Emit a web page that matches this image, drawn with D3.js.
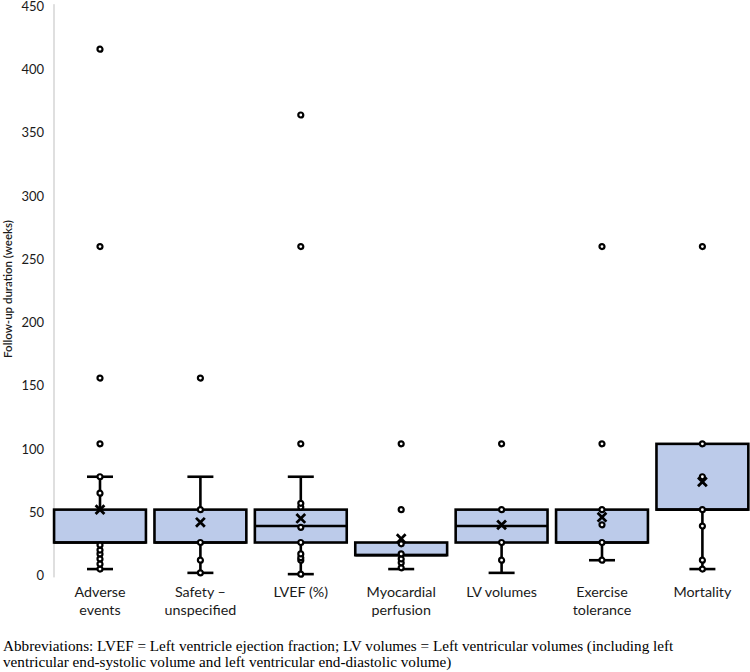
<!DOCTYPE html>
<html>
<head>
<meta charset="utf-8">
<script src="https://cdn.jsdelivr.net/npm/d3@7"></script>
<style>
  body { margin: 0; background: #fff; }
  svg { display: block; }
</style>
</head>
<body>
<svg width="750" height="672"></svg>
<script>
// box stats (weeks)
var categories = ['Adverse\nevents', 'Safety \u2013\nunspecified', 'LVEF (%)', 'Myocardial\nperfusion', 'LV volumes', 'Exercise\ntolerance', 'Mortality'];
var q1 = [26, 26, 26, 16, 26, 26, 52];
var median = [26, 26, 39, 16, 39, 26, 52];
var q3 = [52, 52, 52, 26, 52, 52, 104];
var whiskerLow = [5, 2, 1, 5, 2, 12, 5];
var whiskerHigh = [78, 78, 78, 26, 52, 52, 104];
var mean = [52, 42, 45, 29, 40, 46, 74];
var points = [
    [5, 9, 13, 17, 20, 24, 65, 78, 104, 156, 260, 416],
    [2, 12, 26, 52, 156],
    [1, 12, 14, 17, 26, 38, 54, 57, 104, 260, 364],
    [6, 10, 13, 17, 25, 52, 104],
    [12, 26, 52, 104],
    [12, 26, 40, 52, 104, 260],
    [5, 12, 39, 52, 78, 104, 260]
];
var yTicks = [0, 50, 100, 150, 200, 250, 300, 350, 400, 450];
var yLabel = 'Follow-up duration (weeks)';
var caption = ['Abbreviations: LVEF = Left ventricle ejection fraction; LV volumes = Left ventricular volumes (including left',
    'ventricular end-systolic volume and left ventricular end-diastolic volume)'];

var svg = d3.select('svg');
var axisX = 54;

var x = d3.scaleBand()
    .domain(categories)
    .range([49.8, 752.6])
    .padding(0);

var y = d3.scaleLinear()
    .domain([0, 450])
    .range([575.4, 6.2]);

var boxW = x.bandwidth() * 0.915;
var capW = 26;

// y axis
var yAxis = d3.axisLeft(y).tickValues(yTicks).tickSize(0).tickPadding(10);
var gy = svg.append('g')
    .attr('transform', 'translate(' + axisX + ',0)')
    .call(yAxis);
gy.select('.domain').remove();
gy.selectAll('text')
    .style('font-family', 'Lato, sans-serif')
    .style('font-size', '13px')
    .attr('fill', '#1a1a1a');

svg.append('line')
    .attr('x1', axisX).attr('x2', axisX)
    .attr('y1', y(450) - 2).attr('y2', y(0) + 2)
    .attr('stroke', '#bfbfbf')
    .attr('stroke-width', 1);

svg.append('text')
    .attr('transform', 'translate(12,' + 289 + ') rotate(-90)')
    .attr('text-anchor', 'middle')
    .style('font-family', 'Lato, sans-serif')
    .style('font-size', '11.5px')
    .style('font-weight', '600')
    .attr('fill', '#1a1a1a')
    .text(yLabel);

// boxes
var groups = svg.selectAll('.box')
    .data(categories)
    .enter()
    .append('g')
    .attr('class', 'box')
    .attr('transform', function(d) { return 'translate(' + (x(d) + x.bandwidth() / 2) + ',0)'; });

groups.each(function(d, i) {
    var g = d3.select(this);
    // whiskers
    var segs = [[whiskerLow[i], q1[i]], [q3[i], whiskerHigh[i]]];
    segs.forEach(function(s) {
        if (s[1] - s[0] <= 0) return;
        g.append('line')
            .attr('x1', 0).attr('x2', 0)
            .attr('y1', y(s[0])).attr('y2', y(s[1]))
            .attr('stroke', '#000').attr('stroke-width', 2.6);
    });
    [whiskerLow[i], whiskerHigh[i]].forEach(function(v, k) {
        if ((k === 0 && v >= q1[i]) || (k === 1 && v <= q3[i])) return;
        g.append('line')
            .attr('x1', -capW / 2).attr('x2', capW / 2)
            .attr('y1', y(v)).attr('y2', y(v))
            .attr('stroke', '#000').attr('stroke-width', 2.6);
    });

    g.append('rect')
        .attr('x', -boxW / 2)
        .attr('y', y(q3[i]))
        .attr('width', boxW)
        .attr('height', y(q1[i]) - y(q3[i]))
        .attr('fill', '#bccbea')
        .attr('stroke', '#000')
        .attr('stroke-width', 2.6);

    g.append('line')
        .attr('x1', -boxW / 2).attr('x2', boxW / 2)
        .attr('y1', y(median[i])).attr('y2', y(median[i]))
        .attr('stroke', '#000').attr('stroke-width', 2.6);

    // mean marker
    var m = y(mean[i]), s = 4.4;
    g.append('path')
        .attr('d', 'M' + (-s) + ',' + (m - s) + 'L' + s + ',' + (m + s) + 'M' + s + ',' + (m - s) + 'L' + (-s) + ',' + (m + s))
        .attr('stroke', '#000').attr('stroke-width', 2.8).attr('fill', 'none');

    g.selectAll('circle')
        .data(points[i])
        .enter()
        .append('circle')
        .attr('cx', 0)
        .attr('cy', function(v) { return y(v); })
        .attr('r', 2.5)
        .attr('fill', '#fff')
        .attr('stroke', '#000')
        .attr('stroke-width', 2.2);
});

// category labels
groups.append('text')
    .attr('text-anchor', 'middle')
    .style('font-family', 'Lato, sans-serif')
    .style('font-size', '14.3px')
    .attr('fill', '#1a1a1a')
    .selectAll('tspan')
    .data(function(d) { return d.split('\n'); })
    .enter()
    .append('tspan')
    .attr('x', 0)
    .attr('y', function(d, k) { return 597 + k * 17.5; })
    .text(function(d) { return d; });

// caption
svg.append('text')
    .style('font-family', '"Liberation Serif", "Times New Roman", serif')
    .style('font-size', '15.2px')
    .attr('fill', '#000')
    .selectAll('tspan')
    .data(caption)
    .enter()
    .append('tspan')
    .attr('x', 3)
    .attr('y', function(d, k) { return 651 + k * 16; })
    .text(function(d) { return d; });
</script>
</body>
</html>
